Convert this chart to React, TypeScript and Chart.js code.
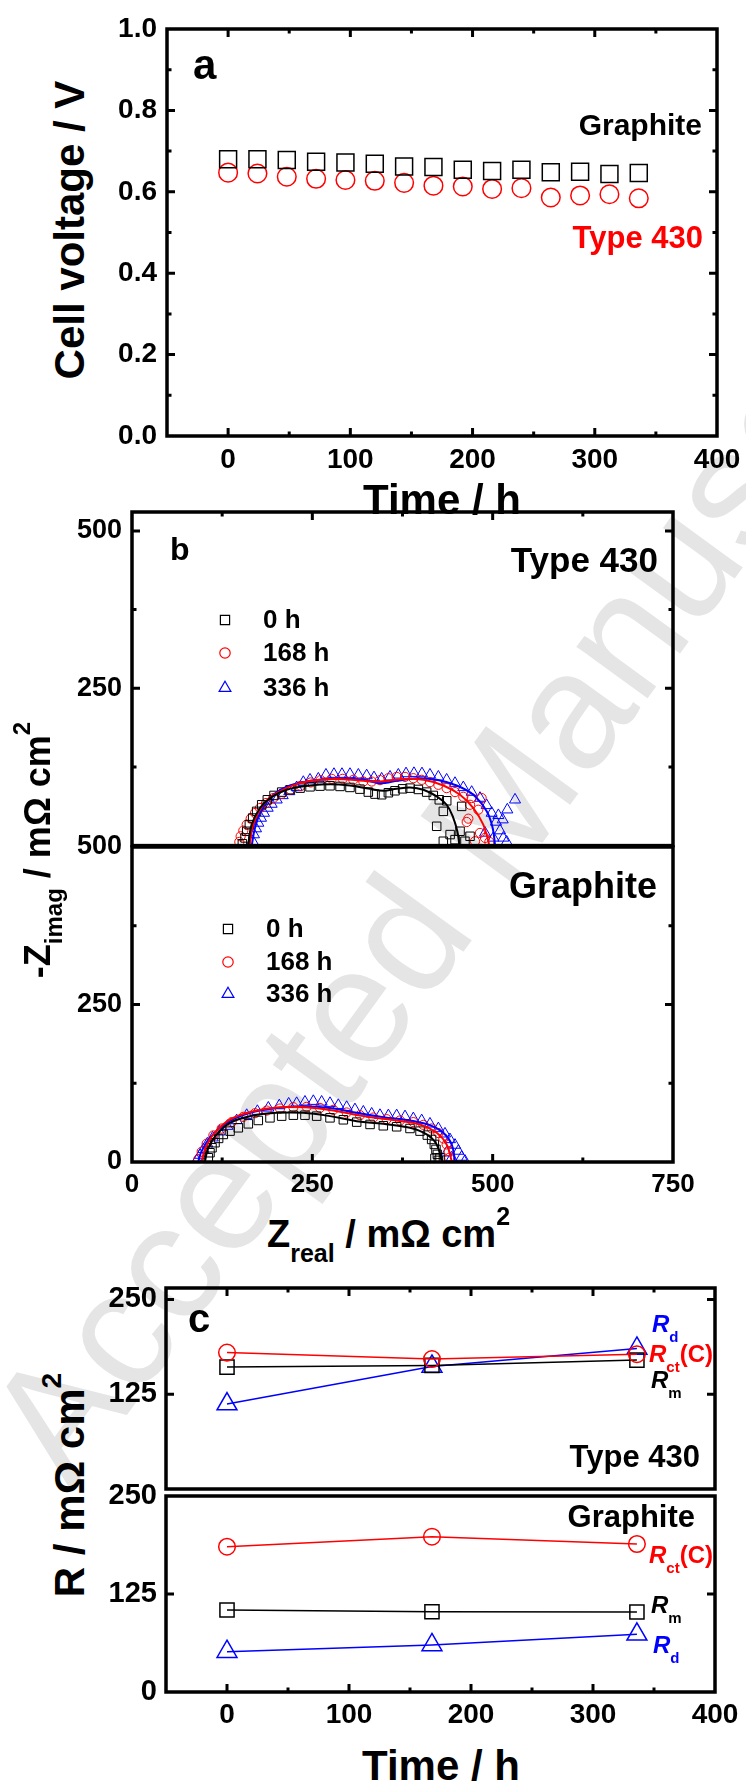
import React, { useEffect, useRef } from 'react';
import { Chart, registerables } from 'chart.js';

Chart.register(...registerables);

const FONT = '"Liberation Sans", Arial, Helvetica, sans-serif';
const RED = '#ff0000';
const BLUE = '#0000ff';
const BLACK = '#000000';

// ---------------- Panel a: cell voltage ----------------
const timeA = [0, 24, 48, 72, 96, 120, 144, 168, 192, 216, 240, 264, 288, 312, 336];
const voltGraphite = [0.680, 0.680, 0.678, 0.674, 0.672, 0.669, 0.662, 0.661, 0.654, 0.651, 0.654, 0.648, 0.649, 0.644, 0.646];
const voltType430 = [0.647, 0.645, 0.637, 0.632, 0.629, 0.627, 0.622, 0.615, 0.613, 0.607, 0.609, 0.586, 0.591, 0.594, 0.584];
const timeTickLabels = [0, 100, 200, 300, 400];
const voltTickLabels = [0, 0.2, 0.4, 0.6, 0.8, 1.0];

// ---------------- Panel b: Nyquist plots (Z real, -Z imag) ----------------
const nyq430_0h = [[153, 3], [156.7, 12.2], [159, 22.7], [162.7, 33.3], [167.3, 43.8], [172.8, 54.4], [179.8, 64.9], [187.6, 72.8], [196.9, 79.7], [207.5, 85], [219, 88.7], [233, 91.3], [246.8, 93.4], [260.6, 94.5], [274.5, 95], [288.4, 94], [302.2, 92.4], [316, 89.7], [327.6, 85], [336.9, 81.8], [346.1, 80.8], [355.4, 84], [364.6, 87.1], [375.2, 90.2], [385.4, 91.3], [397, 89.2], [408.5, 85], [417.7, 79.7], [426, 72.8], [436.3, 71.2], [457, 62.3], [431.6, 54.4], [422.4, 30.7], [441, 17.5], [454.8, 22.8], [468.6, 14.8], [447.8, 9.5], [461.6, 6.9], [431.6, 6.9]];
const fit430_0h = [[161, 0], [165.9, 33.3], [177.4, 59.7], [191.3, 75.5], [214.4, 88.7], [246.8, 95.5], [274.5, 97.6], [302.2, 95.5], [330, 90.2], [348.4, 87.1], [367, 90.2], [385.4, 92.3], [403.9, 88.7], [422.4, 78.1], [436.2, 64.9], [445.5, 43.8], [451, 22.7], [453.8, 1.6]];
const nyq430_168h = [[148.8, 5.9], [150.6, 14.8], [154.3, 23.8], [159, 33.3], [164.5, 42.8], [170.5, 51.8], [177.4, 59.7], [185.8, 67.6], [195.9, 75.5], [207.5, 82.3], [219.9, 88.7], [233.8, 95], [247.7, 100.3], [261.5, 104], [276.8, 106.1], [292, 106.1], [306.8, 104.5], [320.7, 101.8], [332.3, 101.8], [343.8, 104], [355.4, 107.1], [366.9, 109.2], [378.5, 109.2], [390, 107.1], [401.6, 104.5], [413.1, 100.8], [424.7, 96.6], [436.2, 91.3], [447.8, 85], [459.3, 77.6], [470.9, 75.5], [484.7, 75.5], [468.6, 64.9], [480.1, 57], [466.3, 42.8], [464, 37.5], [482.4, 20.1], [489.4, 12.2], [475.5, 6.9], [495.4, 5.9]];
const fit430_168h = [[163, 0], [168, 33], [182, 65], [200.5, 83.4], [228, 97.6], [260.6, 104.5], [293, 105.5], [320.7, 102.9], [343.8, 101.8], [376, 106], [404, 104.5], [431.6, 95.5], [454.7, 80.7], [473.2, 59.7], [487, 33.3], [494, 6.9], [495, 0]];
const nyq430_336h = [[167.3, 6.9], [169.1, 17.5], [171.9, 27], [175.1, 35.9], [178.8, 43.8], [183, 51.7], [188.1, 59.7], [193.6, 66], [200.6, 72.8], [208.9, 79.7], [218.1, 86], [228.3, 92.4], [237.5, 100.8], [246.8, 104.5], [258.3, 106.1], [268.9, 112.4], [280, 113.5], [291.1, 113.5], [302.2, 113.5], [313.8, 112.4], [325.3, 111.3], [335.5, 108.2], [346.1, 106.1], [357.7, 109.2], [369.2, 112.4], [379.9, 114.5], [390.9, 115], [402, 114.5], [413.1, 112.4], [424.7, 109.2], [436.2, 104.5], [447.8, 99.2], [459.3, 92.4], [470.9, 85], [482.4, 75.5], [491.7, 63.9], [498.6, 51.7], [504.6, 37.5], [510.2, 23.8], [514.8, 12.2], [519.4, 5.9], [531, 72.8], [520.3, 57], [513.9, 41.2], [507.9, 48.1], [501, 12.2], [489.4, 20.1]];
const fit430_336h = [[166, 0], [170.5, 28], [179.8, 57], [195.9, 80.7], [219, 95.5], [246.8, 102.9], [283.7, 106.1], [320.7, 104.5], [343.8, 99.2], [366.9, 102.9], [394.6, 107.1], [422.4, 104.5], [450.1, 95.5], [473.2, 80.7], [491.7, 54.4], [500, 28], [503.2, 1.6]];

const nyqGr_0h = [[105.8, 6.8], [108.1, 14.7], [110.9, 22.6], [115.1, 30.6], [120.1, 37.4], [126.6, 43.7], [135.9, 49], [147.4, 54.3], [161.3, 60.6], [175.1, 65.9], [191.3, 70.1], [207.5, 72.8], [223.7, 74.3], [239.8, 74.3], [256, 72.8], [274.5, 70.1], [293, 67], [311.5, 63.3], [330, 59.6], [348.4, 57.5], [366.9, 55.9], [385.4, 53.2], [399.3, 49], [409.4, 42.7], [415.4, 35.8], [419.1, 27.9], [421.4, 20], [423.3, 12.1], [420, 5.8], [427, 6.8], [424.7, 2.6]];
const fitGr_0h = [[101, 0], [105.8, 22.6], [117.4, 43.7], [135.9, 62.2], [163.6, 72.8], [200.5, 78], [237.5, 78], [274.5, 72.8], [311.5, 64.8], [348.4, 60.6], [385.4, 54.3], [408.5, 43.7], [422.4, 27.9], [429.3, 1.6]];
const nyqGr_168h = [[92, 4.2], [96.6, 16.3], [103.5, 29], [112.8, 42.2], [124.3, 53.2], [138.2, 63.3], [154.3, 71.7], [170.5, 77.5], [186.7, 81.7], [205.2, 84.9], [223.7, 87], [242.1, 87.5], [260.6, 85.9], [279.1, 82.8], [297.6, 78.6], [316.1, 74.3], [334.6, 70.6], [353, 68], [371.5, 65.9], [390, 63.3], [403.9, 59], [415.4, 53.2], [424.7, 45.9], [431.6, 37.4], [436.2, 27.9], [439, 17.4], [439.9, 6.8]];
const fitGr_168h = [[96.6, 1.6], [101.2, 20], [112.8, 43.7], [135.9, 67.5], [168.2, 80.7], [205.2, 87], [242.1, 87], [279.1, 81.7], [320.7, 72.8], [366.9, 65.9], [399.3, 59.6], [422.4, 46.4], [436.2, 27.9], [443.2, 1.6]];
const nyqGr_336h = [[89.7, 2.6], [94.3, 11], [98.9, 20], [104.4, 29], [111.8, 38.5], [121.1, 48], [132.2, 56.9], [145.1, 65.9], [159, 74.3], [173.8, 80.7], [189, 85.9], [204.2, 89.6], [217.2, 92.3], [228.3, 93.3], [239.8, 95.4], [251.4, 96.5], [262.9, 95.4], [274.5, 93.3], [286, 90.1], [297.6, 87], [309.1, 83.3], [320.7, 79.6], [332.3, 76.4], [343.8, 74.3], [355.4, 73.8], [366.9, 73.8], [378.5, 72.2], [390, 69.1], [401.6, 65.9], [413.1, 60.6], [424.7, 53.2], [433.9, 44.8], [440.8, 35.8], [447.8, 26.9], [452.4, 17.4], [457, 7.9], [461.6, 1.6], [443.2, 6.8], [436.2, 14.7]];
const fitGr_336h = [[92, 1.6], [96.6, 17.4], [108.1, 38.5], [131.2, 62.2], [163.6, 78], [200.5, 85.9], [237.5, 88.6], [274.5, 85.9], [311.5, 78], [348.4, 71.2], [385.4, 65.9], [413.1, 58.5], [431.6, 46.4], [443.2, 27.9], [447.8, 1.6]];

const zRealTickLabels = [0, 250, 500, 750];
const zImagTopTickLabels = [250, 500];
const zImagBottomTickLabels = [0, 250, 500];
const legendLabels = ['0 h', '168 h', '336 h'];

// ---------------- Panel c: resistances ----------------
const timeC = [0, 168, 336];
const t430_Rm = [160.7, 162.9, 170];
const t430_Rct = [179.8, 171.3, 177.7];
const t430_Rd = [112, 161.6, 185.3];
const gr_Rm = [104.6, 102.4, 102];
const gr_Rct = [185.3, 198.1, 188.8];
const gr_Rd = [51.4, 60, 73.6];
const rTopTickLabels = [125, 250];
const rBottomTickLabels = [0, 125, 250];

// ---------------- helpers ----------------
const pts = (arr: number[][]) => arr.map(([x, y]) => ({ x, y }));
const zip = (xs: number[], ys: number[]) => xs.map((x, i) => ({ x, y: ys[i] }));

const markerSet = (data: any[], style: string, color: string, r: number, bw: number) => ({
  data,
  showLine: false,
  pointStyle: style,
  pointRadius: r,
  pointBorderWidth: bw,
  borderColor: color,
  pointBorderColor: color,
  backgroundColor: 'rgba(0,0,0,0)',
  pointBackgroundColor: 'rgba(0,0,0,0)',
});
const fitLine = (data: any[], color: string) => ({
  data,
  showLine: true,
  pointRadius: 0,
  borderColor: color,
  borderWidth: 2,
  tension: 0.4,
  fill: false,
});
const markerLine = (data: any[], style: string, color: string, r: number) => ({
  data,
  showLine: true,
  pointStyle: style,
  pointRadius: r,
  pointBorderWidth: 1.5,
  borderColor: color,
  borderWidth: 1.5,
  pointBorderColor: color,
  backgroundColor: 'rgba(0,0,0,0)',
  pointBackgroundColor: 'rgba(0,0,0,0)',
  tension: 0,
  fill: false,
});

type LegendItem = { shape: string; color: string; r: number; mx: number; my: number; tx: number; label: string };
type Spec = {
  left: number; top: number; right: number; bottom: number;
  l: number; t: number; r: number; b: number;
  xMin: number; xMax: number; yMin: number; yMax: number;
  xLabels: number[] | null; yLabels: number[]; yDecimals: number;
  xFont: number; yFont: number; xPad: number; yPad: number;
  xMajor: number[]; xMinor: number[]; yMajor: number[]; yMinor: number[];
  xTop: boolean; xBottom: boolean;
  datasets: any[];
  legend?: LegendItem[];
};

function drawMarker(ctx: CanvasRenderingContext2D, shape: string, x: number, y: number, r: number) {
  ctx.beginPath();
  if (shape === 'rect') {
    const h = r * Math.SQRT1_2;
    ctx.rect(x - h, y - h, 2 * h, 2 * h);
  } else if (shape === 'circle') {
    ctx.arc(x, y, r, 0, Math.PI * 2);
  } else {
    const a = -Math.PI / 2;
    ctx.moveTo(x + Math.cos(a) * r, y + Math.sin(a) * r);
    ctx.lineTo(x + Math.cos(a + 2.0944) * r, y + Math.sin(a + 2.0944) * r);
    ctx.lineTo(x + Math.cos(a + 4.1888) * r, y + Math.sin(a + 4.1888) * r);
    ctx.closePath();
  }
  ctx.stroke();
}

function makeFrame(spec: Spec, ox: number, oy: number) {
  return {
    id: 'frame',
    afterDatasetsDraw(chart: any) {
      const { ctx, chartArea: a, scales } = chart;
      const xs = scales.x;
      const ys = scales.y;
      ctx.save();
      ctx.strokeStyle = BLACK;
      ctx.lineWidth = 3;
      ctx.beginPath();
      const xt = (vals: number[], len: number) => vals.forEach((v) => {
        const px = xs.getPixelForValue(v);
        if (spec.xTop) { ctx.moveTo(px, a.top); ctx.lineTo(px, a.top + len); }
        if (spec.xBottom) { ctx.moveTo(px, a.bottom); ctx.lineTo(px, a.bottom - len); }
      });
      const yt = (vals: number[], len: number) => vals.forEach((v) => {
        const py = ys.getPixelForValue(v);
        ctx.moveTo(a.left, py); ctx.lineTo(a.left + len, py);
        ctx.moveTo(a.right, py); ctx.lineTo(a.right - len, py);
      });
      xt(spec.xMajor, 8); xt(spec.xMinor, 4.5);
      yt(spec.yMajor, 8); yt(spec.yMinor, 4.5);
      ctx.stroke();
      ctx.lineWidth = 3.5;
      ctx.strokeRect(a.left, a.top, a.right - a.left, a.bottom - a.top);
      if (spec.legend) {
        ctx.font = `bold 26px ${FONT}`;
        ctx.textBaseline = 'middle';
        ctx.textAlign = 'left';
        spec.legend.forEach((it) => {
          ctx.strokeStyle = it.color;
          ctx.lineWidth = 1.2;
          drawMarker(ctx, it.shape, it.mx - ox, it.my - oy, it.r);
          ctx.fillStyle = BLACK;
          ctx.fillText(it.label, it.tx - ox, it.my - oy + 1);
        });
      }
      ctx.restore();
    },
  };
}

function PlotCanvas({ spec }: { spec: Spec }) {
  const ref = useRef<HTMLCanvasElement | null>(null);
  const cl = spec.left - spec.l;
  const ct = spec.top - spec.t;
  const w = spec.right - spec.left + spec.l + spec.r;
  const h = spec.bottom - spec.top + spec.t + spec.b;
  useEffect(() => {
    const showX = !!spec.xLabels;
    const chart = new Chart(ref.current as HTMLCanvasElement, {
      type: 'scatter',
      data: { datasets: spec.datasets },
      plugins: [makeFrame(spec, cl, ct)],
      options: {
        animation: false,
        responsive: false,
        maintainAspectRatio: false,
        devicePixelRatio: 1,
        events: [],
        layout: { padding: { left: 0, top: spec.t, right: spec.r, bottom: showX ? 0 : spec.b } },
        plugins: { legend: { display: false }, tooltip: { enabled: false } },
        scales: {
          x: {
            type: 'linear',
            min: spec.xMin,
            max: spec.xMax,
            display: showX,
            grid: { display: false, drawTicks: false },
            border: { display: false },
            afterBuildTicks: (s: any) => { s.ticks = (spec.xLabels || []).map((v) => ({ value: v })); },
            afterFit: (s: any) => {
              s.height = showX ? spec.b : 0;
              s.paddingLeft = 0; s.paddingRight = 0; s.paddingTop = 0; s.paddingBottom = 0;
            },
            ticks: {
              autoSkip: false, maxRotation: 0, minRotation: 0, padding: spec.xPad, color: BLACK,
              font: { family: FONT, size: spec.xFont, weight: 'bold' },
              callback: (v: any) => String(v),
            },
          },
          y: {
            type: 'linear',
            min: spec.yMin,
            max: spec.yMax,
            grid: { display: false, drawTicks: false },
            border: { display: false },
            afterBuildTicks: (s: any) => { s.ticks = spec.yLabels.map((v) => ({ value: v })); },
            afterFit: (s: any) => {
              s.width = spec.l;
              s.paddingLeft = 0; s.paddingRight = 0; s.paddingTop = 0; s.paddingBottom = 0;
            },
            ticks: {
              autoSkip: false, padding: spec.yPad, color: BLACK,
              font: { family: FONT, size: spec.yFont, weight: 'bold' },
              callback: (v: any) => Number(v).toFixed(spec.yDecimals),
            },
          },
        },
      } as any,
    } as any);
    return () => chart.destroy();
  }, []);
  return (
    <canvas
      ref={ref}
      width={w}
      height={h}
      style={{ position: 'absolute', left: cl, top: ct, width: w, height: h }}
    />
  );
}

// ---------------- specs ----------------
const specA: Spec = {
  left: 167, top: 29, right: 717, bottom: 436, l: 60, t: 15, r: 29, b: 45,
  xMin: -50, xMax: 400, yMin: 0, yMax: 1,
  xLabels: timeTickLabels, yLabels: voltTickLabels, yDecimals: 1,
  xFont: 28, yFont: 28, xPad: 7, yPad: 10,
  xMajor: [0, 100, 200, 300], xMinor: [50, 150, 250, 350],
  yMajor: [0.2, 0.4, 0.6, 0.8], yMinor: [0.1, 0.3, 0.5, 0.7, 0.9],
  xTop: true, xBottom: true,
  datasets: [
    markerSet(zip(timeA, voltGraphite), 'rect', BLACK, 12, 1.5),
    markerSet(zip(timeA, voltType430), 'circle', RED, 9.3, 1.5),
  ],
};

const specB1: Spec = {
  left: 132, top: 512, right: 673, bottom: 847, l: 66, t: 15, r: 30, b: 6,
  xMin: 0, xMax: 750, yMin: 0, yMax: 530,
  xLabels: null, yLabels: zImagTopTickLabels, yDecimals: 0,
  xFont: 26, yFont: 27, xPad: 7, yPad: 10,
  xMajor: [250, 500], xMinor: [125, 375, 625],
  yMajor: [250, 500], yMinor: [125, 375],
  xTop: true, xBottom: false,
  datasets: [
    fitLine(pts(fit430_0h), BLACK),
    fitLine(pts(fit430_168h), RED),
    fitLine(pts(fit430_336h), BLUE),
    markerSet(pts(nyq430_0h), 'rect', BLACK, 6, 1),
    markerSet(pts(nyq430_168h), 'circle', RED, 4.6, 1),
    markerSet(pts(nyq430_336h), 'triangle', BLUE, 6.4, 1),
  ],
  legend: [
    { shape: 'rect', color: BLACK, r: 6.5, mx: 225, my: 620, tx: 263, label: legendLabels[0] },
    { shape: 'circle', color: RED, r: 5.2, mx: 225, my: 653, tx: 263, label: legendLabels[1] },
    { shape: 'triangle', color: BLUE, r: 6.8, mx: 225, my: 688, tx: 263, label: legendLabels[2] },
  ],
};

const specB2: Spec = {
  left: 132, top: 847, right: 673, bottom: 1162, l: 66, t: 20, r: 30, b: 45,
  xMin: 0, xMax: 750, yMin: 0, yMax: 500,
  xLabels: zRealTickLabels, yLabels: zImagBottomTickLabels, yDecimals: 0,
  xFont: 26, yFont: 27, xPad: 7, yPad: 10,
  xMajor: [250, 500], xMinor: [125, 375, 625],
  yMajor: [250], yMinor: [125, 375],
  xTop: false, xBottom: true,
  datasets: [
    fitLine(pts(fitGr_0h), BLACK),
    fitLine(pts(fitGr_168h), RED),
    fitLine(pts(fitGr_336h), BLUE),
    markerSet(pts(nyqGr_0h), 'rect', BLACK, 6, 1),
    markerSet(pts(nyqGr_168h), 'circle', RED, 4.6, 1),
    markerSet(pts(nyqGr_336h), 'triangle', BLUE, 6.4, 1),
  ],
  legend: [
    { shape: 'rect', color: BLACK, r: 6.5, mx: 228, my: 929, tx: 266, label: legendLabels[0] },
    { shape: 'circle', color: RED, r: 5.2, mx: 228, my: 962, tx: 266, label: legendLabels[1] },
    { shape: 'triangle', color: BLUE, r: 6.8, mx: 228, my: 994, tx: 266, label: legendLabels[2] },
  ],
};

const specC1: Spec = {
  left: 166, top: 1288, right: 715, bottom: 1496, l: 66, t: 15, r: 31, b: 6,
  xMin: -50, xMax: 400, yMin: 0, yMax: 265,
  xLabels: null, yLabels: rTopTickLabels, yDecimals: 0,
  xFont: 28, yFont: 29, xPad: 6, yPad: 9,
  xMajor: [0, 100, 200, 300], xMinor: [50, 150, 250, 350],
  yMajor: [125, 250], yMinor: [],
  xTop: true, xBottom: false,
  datasets: [
    markerLine(zip(timeC, t430_Rct), 'circle', RED, 8.3),
    markerLine(zip(timeC, t430_Rm), 'rect', BLACK, 10),
    markerLine(zip(timeC, t430_Rd), 'triangle', BLUE, 11.5),
  ],
};

const specC2: Spec = {
  left: 166, top: 1496, right: 715, bottom: 1692, l: 66, t: 20, r: 31, b: 45,
  xMin: -50, xMax: 400, yMin: 0, yMax: 250,
  xLabels: timeTickLabels, yLabels: rBottomTickLabels, yDecimals: 0,
  xFont: 28, yFont: 29, xPad: 6, yPad: 9,
  xMajor: [0, 100, 200, 300], xMinor: [50, 150, 250, 350],
  yMajor: [125], yMinor: [],
  xTop: false, xBottom: true,
  datasets: [
    markerLine(zip(timeC, gr_Rct), 'circle', RED, 8.3),
    markerLine(zip(timeC, gr_Rm), 'rect', BLACK, 10),
    markerLine(zip(timeC, gr_Rd), 'triangle', BLUE, 11.5),
  ],
};

const specs = [specA, specB1, specB2, specC1, specC2];

// ---------------- text helpers ----------------
const BASE = 0.8465;

function Txt(props: { x: number; y: number; size: number; color?: string; anchor?: string; weight?: string; children: any }) {
  const { x, y, size, color = BLACK, anchor = 'start', weight = 'bold', children } = props;
  return (
    <div
      style={{
        position: 'absolute', left: x, top: y - BASE * size, fontFamily: FONT, fontSize: size,
        fontWeight: weight as any, lineHeight: 1, color, whiteSpace: 'nowrap',
        transform: anchor === 'end' ? 'translateX(-100%)' : anchor === 'middle' ? 'translateX(-50%)' : undefined,
      }}
    >
      {children}
    </div>
  );
}

function VTxt(props: { x: number; cy: number; size: number; children: any }) {
  const { x, cy, size, children } = props;
  return (
    <div style={{ position: 'absolute', left: x, top: cy, width: 0, height: 0, transform: 'rotate(-90deg)', transformOrigin: '0 0' }}>
      <div
        style={{
          position: 'absolute', left: 0, top: -BASE * size, transform: 'translateX(-50%)', whiteSpace: 'nowrap',
          fontFamily: FONT, fontSize: size, lineHeight: 1, fontWeight: 'bold', color: BLACK,
        }}
      >
        {children}
      </div>
    </div>
  );
}

function S(props: { s: number; dy: number; children: any; italic?: boolean }) {
  return (
    <span style={{ fontSize: props.s, position: 'relative', top: props.dy, fontStyle: props.italic ? 'italic' : 'normal' }}>
      {props.children}
    </span>
  );
}

function RLabel(props: { x: number; y: number; color: string; sub: string; tail?: string }) {
  return (
    <Txt x={props.x} y={props.y} size={24} color={props.color}>
      <i>R</i>
      <S s={15} dy={10}>{props.sub}</S>
      {props.tail ? <span>{props.tail}</span> : null}
    </Txt>
  );
}

function Watermark() {
  const size = 166;
  return (
    <div style={{ position: 'absolute', left: 72, top: 1492, width: 0, height: 0, transform: 'rotate(-54deg)', transformOrigin: '0 0' }}>
      <div
        style={{
          position: 'absolute', left: 0, top: -BASE * size, whiteSpace: 'nowrap', fontFamily: FONT,
          fontSize: size, lineHeight: 1, color: '#e5e5e5',
        }}
      >
        Accepted Manuscript
      </div>
    </div>
  );
}

export default function App() {
  return (
    <div style={{ position: 'absolute', left: 0, top: 0, width: 746, height: 1786, overflow: 'hidden', background: '#ffffff' }}>
      <Watermark />
      {specs.map((s, i) => (
        <PlotCanvas key={i} spec={s} />
      ))}

      {/* Panel a */}
      <VTxt x={85} cy={230} size={42}>Cell voltage / V</VTxt>
      <Txt x={442} y={515} size={42} anchor="middle">Time / h</Txt>
      <Txt x={193} y={80} size={42}>a</Txt>
      <Txt x={702} y={135} size={30} anchor="end">Graphite</Txt>
      <Txt x={703} y={248} size={31} anchor="end" color={RED}>Type 430</Txt>

      {/* Panel b */}
      <VTxt x={50} cy={850} size={36}>
        -Z<S s={24} dy={12}>imag</S> / mΩ cm<S s={24} dy={-20}>2</S>
      </VTxt>
      <Txt x={267} y={1247} size={38}>
        Z<S s={25} dy={15}>real</S> / mΩ cm<S s={25} dy={-22}>2</S>
      </Txt>
      <Txt x={170} y={560} size={32}>b</Txt>
      <Txt x={658} y={572} size={35} anchor="end">Type 430</Txt>
      <Txt x={657} y={898} size={36} anchor="end">Graphite</Txt>

      {/* Panel c */}
      <VTxt x={85} cy={1485} size={42}>
        R / mΩ cm<S s={28} dy={-23}>2</S>
      </VTxt>
      <Txt x={441} y={1781} size={42} anchor="middle">Time / h</Txt>
      <Txt x={188} y={1332} size={40}>c</Txt>
      <Txt x={700} y={1467} size={31} anchor="end">Type 430</Txt>
      <Txt x={695} y={1527} size={31} anchor="end">Graphite</Txt>
      <RLabel x={652} y={1332} color={BLUE} sub="d" />
      <RLabel x={649} y={1362} color={RED} sub="ct" tail="(C)" />
      <RLabel x={651} y={1388} color={BLACK} sub="m" />
      <RLabel x={649} y={1563} color={RED} sub="ct" tail="(C)" />
      <RLabel x={651} y={1613} color={BLACK} sub="m" />
      <RLabel x={653} y={1653} color={BLUE} sub="d" />
    </div>
  );
}
